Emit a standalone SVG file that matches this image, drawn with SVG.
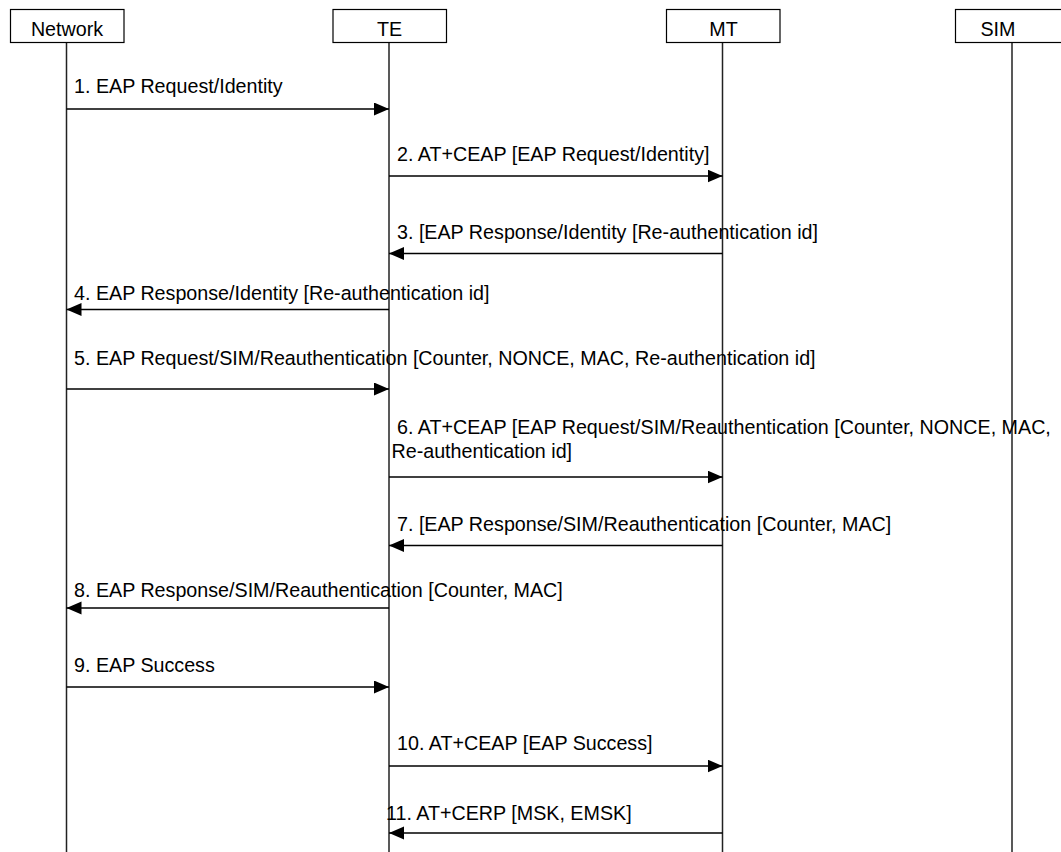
<svg xmlns="http://www.w3.org/2000/svg" width="1061" height="852" viewBox="0 0 1061 852">
<style>
.box{fill:#fff;stroke:#000;stroke-width:1.2}
.life{stroke:#222;stroke-width:1.5;fill:none}
.msg{stroke:#000;stroke-width:1.3;fill:none;marker-end:url(#ah)}
text{font-family:"Liberation Sans",Arial,sans-serif;font-size:19.7px;fill:#000}
.c{text-anchor:middle}
</style>
<defs>
<marker id="ah" markerUnits="userSpaceOnUse" markerWidth="16" markerHeight="14" refX="15" refY="6.5" orient="auto">
<path d="M0,0 L15,6.5 L0,13 z" fill="#000"/>
</marker>
</defs>
<g id="lifelines">
<line class="life" x1="66.5" y1="42.5" x2="66.5" y2="852"/>
<line class="life" x1="389" y1="42.5" x2="389" y2="852"/>
<line class="life" x1="722.5" y1="42.5" x2="722.5" y2="852"/>
<line class="life" x1="1012" y1="42.5" x2="1012" y2="852"/>
</g>
<g id="node-network"><rect class="box" x="10.5" y="9.5" width="113.5" height="33"/><text class="c" x="67" y="36">Network</text></g>
<g id="node-te"><rect class="box" x="333" y="9.5" width="113.5" height="33"/><text class="c" x="389.5" y="36">TE</text></g>
<g id="node-mt"><rect class="box" x="666.5" y="9.5" width="113.5" height="33"/><text class="c" x="723.5" y="36">MT</text></g>
<g id="node-sim"><rect class="box" x="955.5" y="9.5" width="113.5" height="33"/><text class="c" x="998" y="36">SIM</text></g>
<g id="connectors">
<line class="msg" x1="66.5" y1="109" x2="389" y2="109"/>
<text x="74" y="92.5">1. EAP Request/Identity</text>
<line class="msg" x1="389" y1="176" x2="722.5" y2="176"/>
<text x="397" y="160.5">2. AT+CEAP [EAP Request/Identity]</text>
<line class="msg" x1="722.5" y1="253.5" x2="389" y2="253.5"/>
<text x="397" y="238.5">3. [EAP Response/Identity [Re-authentication id]</text>
<line class="msg" x1="389" y1="309.5" x2="66.5" y2="309.5"/>
<text x="74" y="300">4. EAP Response/Identity [Re-authentication id]</text>
<line class="msg" x1="66.5" y1="389" x2="389" y2="389"/>
<text x="74" y="365">5. EAP Request/SIM/Reauthentication [Counter, NONCE, MAC, Re-authentication id]</text>
<line class="msg" x1="389" y1="477" x2="722.5" y2="477"/>
<text x="397" y="434">6. AT+CEAP [EAP Request/SIM/Reauthentication [Counter, NONCE, MAC,</text>
<text x="391.5" y="457.5">Re-authentication id]</text>
<line class="msg" x1="722.5" y1="545.5" x2="389" y2="545.5"/>
<text x="397" y="531">7. [EAP Response/SIM/Reauthentication [Counter, MAC]</text>
<line class="msg" x1="389" y1="608" x2="66.5" y2="608"/>
<text x="74" y="597">8. EAP Response/SIM/Reauthentication [Counter, MAC]</text>
<line class="msg" x1="66.5" y1="687" x2="389" y2="687"/>
<text x="74" y="672">9. EAP Success</text>
<line class="msg" x1="389" y1="766" x2="722.5" y2="766"/>
<text x="397" y="750">10. AT+CEAP [EAP Success]</text>
<line class="msg" x1="722.5" y1="833" x2="389" y2="833"/>
<text x="386" y="820">11. AT+CERP [MSK, EMSK]</text>
</g>
</svg>
